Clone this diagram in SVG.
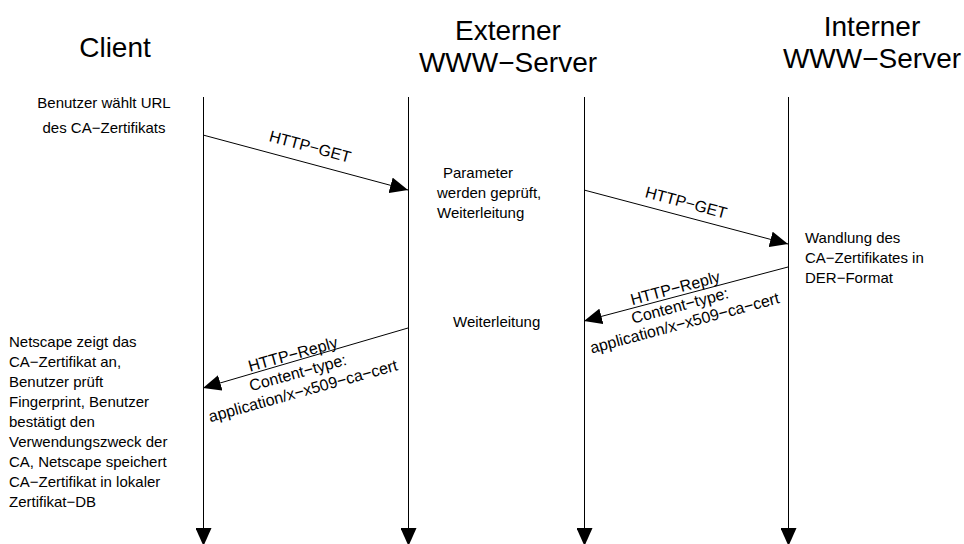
<svg xmlns="http://www.w3.org/2000/svg" width="964" height="544" viewBox="0 0 964 544">
<defs>
<style>
.t{font-family:"Liberation Sans",Arial,sans-serif;fill:#000}
.title{font-size:28px;text-anchor:middle}
.s{font-size:15px}
.l{font-size:16px;text-anchor:middle}
.m{text-anchor:middle}
.life{stroke:#000;stroke-width:1;fill:none}
.msg{stroke:#000;stroke-width:1;fill:none}
</style>
<marker id="ah" markerUnits="userSpaceOnUse" markerWidth="18" markerHeight="16" refX="18" refY="8" orient="auto" viewBox="0 0 18 16">
<path d="M0,0 L18,8 L0,16 z" fill="#000"/>
</marker>
</defs>
<rect width="964" height="544" fill="#fff"/>
<g id="client">
<text class="t title" x="115" y="57">Client</text>
<text class="t s m" x="104" y="108">Benutzer wählt URL</text>
<text class="t s m" x="104" y="133">des CA−Zertifikats</text>
<text class="t s" x="9" y="347">Netscape zeigt das</text>
<text class="t s" x="9" y="367">CA−Zertifikat an,</text>
<text class="t s" x="9" y="387">Benutzer prüft</text>
<text class="t s" x="9" y="407">Fingerprint, Benutzer</text>
<text class="t s" x="9" y="427">bestätigt den</text>
<text class="t s" x="9" y="447">Verwendungszweck der</text>
<text class="t s" x="9" y="467">CA, Netscape speichert</text>
<text class="t s" x="9" y="487">CA−Zertifikat in lokaler</text>
<text class="t s" x="9" y="507">Zertifikat−DB</text>
</g>
<g id="externer">
<text class="t title" x="508" y="40">Externer</text>
<text class="t title" x="508" y="72">WWW−Server</text>
<text class="t s m" x="478" y="178">Parameter</text>
<text class="t s" x="437" y="198">werden geprüft,</text>
<text class="t s" x="437" y="218">Weiterleitung</text>
<text class="t s" x="453" y="327">Weiterleitung</text>
</g>
<g id="interner">
<text class="t title" x="872" y="36">Interner</text>
<text class="t title" x="872" y="68">WWW−Server</text>
<text class="t s" x="805" y="243">Wandlung des</text>
<text class="t s" x="805" y="263">CA−Zertifikates in</text>
<text class="t s" x="805" y="283">DER−Format</text>
</g>
<g id="connectors">
<line class="life" x1="203.5" y1="97" x2="203.5" y2="546" marker-end="url(#ah)"/>
<line class="life" x1="408.5" y1="97" x2="408.5" y2="546" marker-end="url(#ah)"/>
<line class="life" x1="584.5" y1="97" x2="584.5" y2="546" marker-end="url(#ah)"/>
<line class="life" x1="788.5" y1="97" x2="788.5" y2="546" marker-end="url(#ah)"/>
<line class="msg" x1="203" y1="135" x2="408" y2="190" marker-end="url(#ah)"/>
<line class="msg" x1="584" y1="190" x2="788" y2="244" marker-end="url(#ah)"/>
<line class="msg" x1="788" y1="267" x2="584" y2="321" marker-end="url(#ah)"/>
<line class="msg" x1="408" y1="328" x2="203" y2="388" marker-end="url(#ah)"/>
<g transform="translate(310,147) rotate(15)"><text class="t l" x="0" y="5">HTTP−GET</text></g>
<g transform="translate(686,203) rotate(15)"><text class="t l" x="0" y="5">HTTP−GET</text></g>
<g transform="translate(680,306) rotate(-15)">
<text class="t l" x="0" y="-13">HTTP−Reply</text>
<text class="t l" x="0" y="5">Content−type:</text>
<text class="t l" x="0" y="23">application/x−x509−ca−cert</text>
</g>
<g transform="translate(298,373) rotate(-15.5)">
<text class="t l" x="0" y="-14">HTTP−Reply</text>
<text class="t l" x="0" y="5">Content−type:</text>
<text class="t l" x="0" y="24">application/x−x509−ca−cert</text>
</g>
</g>
</svg>
